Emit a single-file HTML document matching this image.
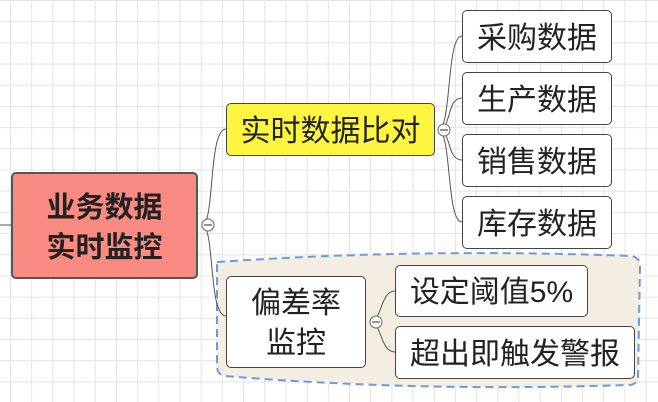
<!DOCTYPE html>
<html><head><meta charset="utf-8"><style>
body{margin:0;width:658px;height:402px;overflow:hidden;background-color:#fff;
background-image:linear-gradient(to right,#e4e4e4 1px,transparent 1px),linear-gradient(to bottom,#e4e4e4 1px,transparent 1px);
background-size:21.2px 21.2px;background-position:10px 0px;position:relative;font-family:"Liberation Sans","Noto Sans CJK SC",sans-serif;}
.n{position:absolute;box-sizing:border-box;border:1px solid #444;border-radius:5px;background:#fff;display:flex;align-items:center;justify-content:center;text-align:center;font-size:30px;color:#222;line-height:38px;white-space:nowrap;padding-top:4px}
svg{position:absolute;left:0;top:0}
</style></head><body>
<svg width="658" height="402">
<path d="M217,262 Q420,248 632,256 Q640,258 640,266 L638,378 Q636,386 626,385 Q420,392 224,376 Q217,374 217,366 Z" fill="#f3eee1" stroke="#6a9be0" stroke-width="2" stroke-dasharray="8,5"/>
<g fill="none" stroke="#555" stroke-width="1">
<path d="M0,225 H11"/>
<path d="M202,225 C215,225 208,129 226,129"/>
<path d="M202,225 C215,225 208,316 226,316"/>
<path d="M438,130 C452,130 446,36 462,36"/>
<path d="M438,130 C452,130 446,98 462,98"/>
<path d="M438,130 C452,130 446,160 462,160"/>
<path d="M438,130 C452,130 446,222 462,222"/>
<path d="M370,322 C382,322 380,291 395,291"/>
<path d="M370,322 C382,322 380,352 395,352"/>
</g>
<g fill="#fff" stroke="#666" stroke-width="1">
<circle cx="208" cy="225" r="6"/><circle cx="444" cy="130" r="6"/><circle cx="376" cy="322" r="6"/>
</g>
<g stroke="#555" stroke-width="1.2"><path d="M204,225h8M440,130h8M372,322h8"/></g>
</svg>
<div class="n" style="left:11px;top:172px;width:187px;height:107px;background:#f98b82;border:2px solid #555;font-weight:bold;font-size:29px;line-height:40px">业务数据<br>实时监控</div>
<div class="n" style="left:226px;top:103px;width:209px;height:53px;background:#fdf540">实时数据比对</div>
<div class="n" style="left:462px;top:10px;width:150px;height:53px">采购数据</div>
<div class="n" style="left:462px;top:72px;width:150px;height:53px">生产数据</div>
<div class="n" style="left:462px;top:134px;width:150px;height:53px">销售数据</div>
<div class="n" style="left:462px;top:196px;width:150px;height:53px">库存数据</div>
<div class="n" style="left:226px;top:276px;width:140px;height:92px;line-height:40px">偏差率<br>监控</div>
<div class="n" style="left:395px;top:265px;width:193px;height:52px">设定阈值5%</div>
<div class="n" style="left:395px;top:326px;width:240px;height:53px">超出即触发警报</div>
</body></html>
